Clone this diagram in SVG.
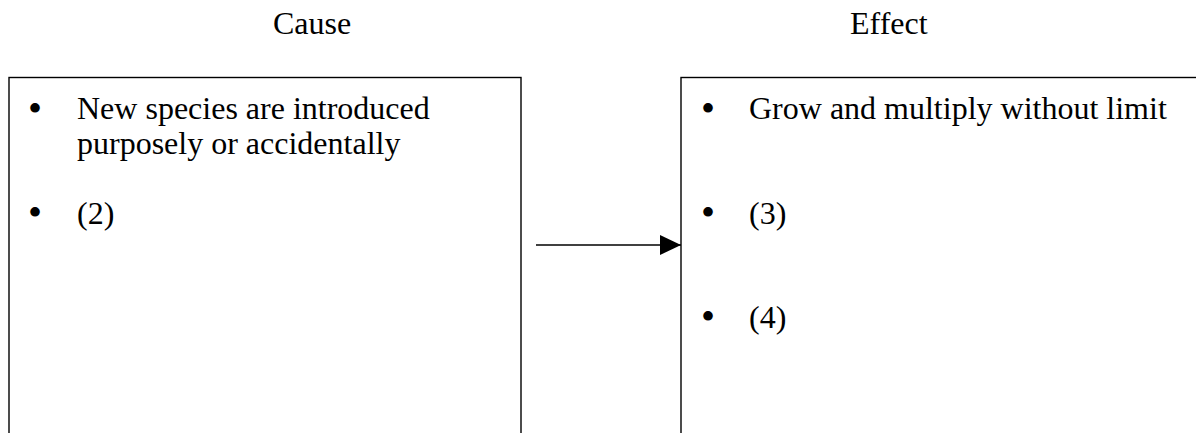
<svg xmlns="http://www.w3.org/2000/svg" width="1196" height="433" viewBox="0 0 1196 433">
<defs>
<style>
.t{font-family:"Liberation Serif","Times New Roman",serif;font-size:32px;fill:#000}
.b{font-family:"Liberation Serif","Times New Roman",serif;font-size:40px;fill:#000;text-anchor:middle}
.box{fill:#fff;stroke:#000;stroke-width:1.4}
</style>
<marker id="ah" viewBox="0 0 21 20" refX="21" refY="10" markerWidth="21" markerHeight="20" markerUnits="userSpaceOnUse" orient="auto">
<path d="M0,0 L21,10 L0,20 Z" fill="#000"/>
</marker>
</defs>
<rect width="1196" height="433" fill="#fff"/>
<g id="title-cause"><text class="t" x="273" y="34">Cause</text></g>
<g id="title-effect"><text class="t" x="850" y="34">Effect</text></g>
<g id="cause">
<rect class="box" x="9" y="77.5" width="512" height="400"/>
<text class="b" x="35" y="122">•</text>
<text class="t" x="77" y="119">New species are introduced</text>
<text class="t" x="77" y="154">purposely or accidentally</text>
<text class="b" x="35" y="226">•</text>
<text class="t" x="77" y="223.5">(2)</text>
</g>
<g id="effect">
<rect class="box" x="681" y="77.5" width="600" height="400"/>
<text class="b" x="708" y="122">•</text>
<text class="t" x="749" y="119">Grow and multiply without limit</text>
<text class="b" x="708" y="226">•</text>
<text class="t" x="749" y="223.5">(3)</text>
<text class="b" x="708" y="330">•</text>
<text class="t" x="749" y="328">(4)</text>
</g>
<g id="connectors">
<line x1="536" y1="245" x2="681" y2="245" stroke="#000" stroke-width="1.4" marker-end="url(#ah)"/>
</g>
</svg>
